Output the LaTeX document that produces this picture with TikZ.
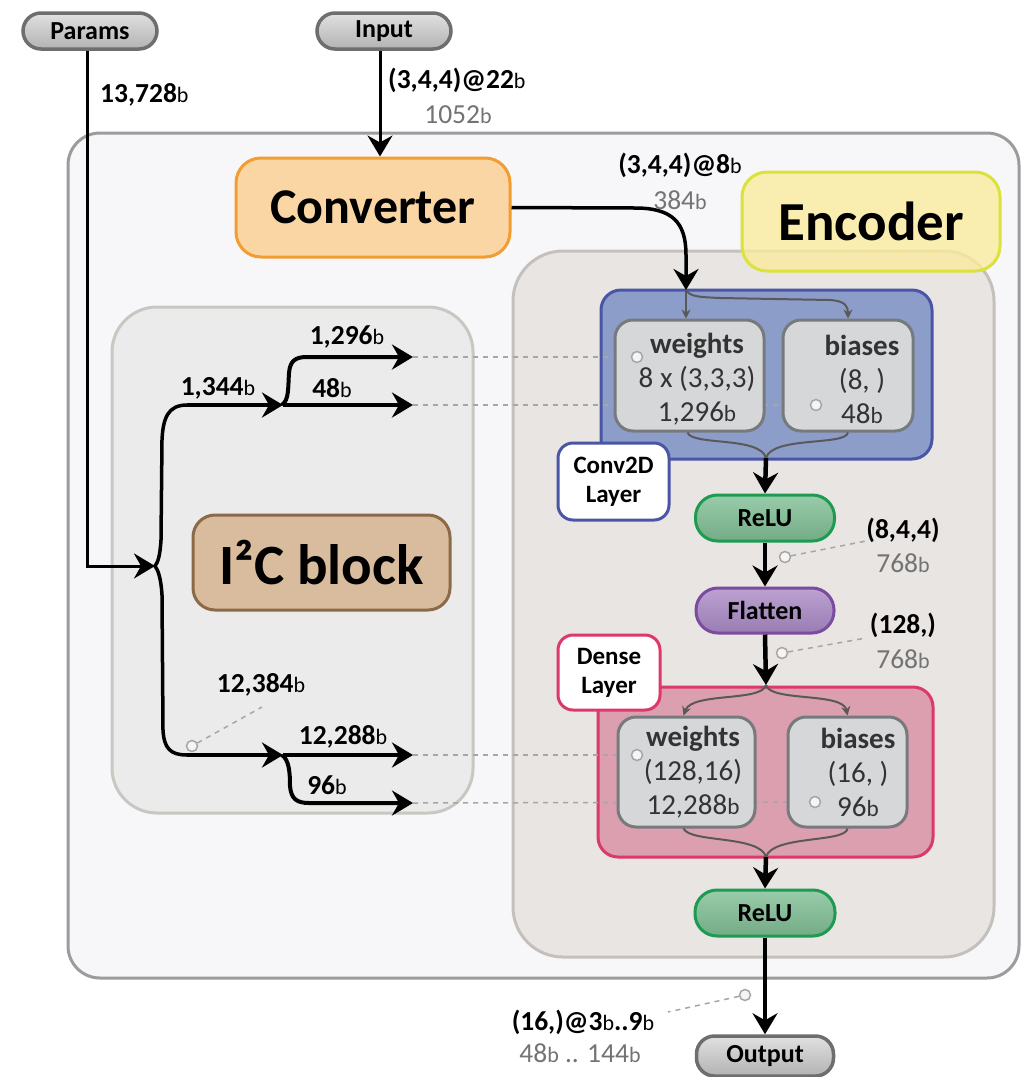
\documentclass[tikz,border=0pt]{standalone}
\usepackage{fontspec}
\setmainfont{Carlito}
\usetikzlibrary{arrows.meta,calc}
\definecolor{cOuterF}{HTML}{F7F7F9}\definecolor{cOuterD}{HTML}{9C9C9C}
\definecolor{cEncF}{HTML}{E8E5E3}\definecolor{cEncD}{HTML}{C4C0BB}
\definecolor{cI2CF}{HTML}{EBEBEB}\definecolor{cI2CD}{HTML}{CAC7C3}
\definecolor{cCvtF}{HTML}{FAD6A5}\definecolor{cCvtD}{HTML}{F39C30}
\definecolor{cEncLF}{HTML}{FBEB9C}\definecolor{cEncLD}{HTML}{D9E33B}
\definecolor{cI2CLF}{HTML}{D9BC9E}\definecolor{cI2CLD}{HTML}{8C6A48}
\definecolor{cConvF}{HTML}{8C9DCA}\definecolor{cConvD}{HTML}{4B55A6}
\definecolor{cDenseF}{HTML}{DC9FB0}\definecolor{cDenseD}{HTML}{DB386C}
\definecolor{cInF}{HTML}{D6D7D9}\definecolor{cInD}{HTML}{777A7D}
\definecolor{cReluF}{HTML}{80BF95}\definecolor{cReluD}{HTML}{1D9B50}
\definecolor{cFlatF}{HTML}{AB8AC6}\definecolor{cFlatD}{HTML}{7B4BA0}
\definecolor{cPillD}{HTML}{6E6E6E}
\definecolor{cGrayT}{HTML}{737373}
\newcommand\ub{{\mdseries\scalebox{0.8}{b}}}
\begin{document}
\begin{tikzpicture}[x=1pt,y=-1pt,
  every node/.style={inner sep=0pt},
  area/.style={line width=3pt},
  pill/.style={draw=cPillD, line width=3.5pt, top color=black!12, bottom color=black!30, rounded corners=18pt, font=\fontsize{26}{30}\selectfont\bfseries},
  title/.style={line width=3pt, rounded corners=25pt, font=\fontsize{50}{54}\selectfont\bfseries},
  inbox/.style={draw=cInD, fill=cInF, line width=3pt, rounded corners=18pt},
  intext/.style={align=center, text=black!80, font=\fontsize{29}{34}\selectfont},
  oppill/.style={line width=3pt, rounded corners=22pt, font=\fontsize{26}{30}\selectfont\bfseries},
  layerlab/.style={fill=white, line width=3pt, rounded corners=15pt, align=center, font=\fontsize{25}{29}\selectfont\bfseries},
  blab/.style={font=\fontsize{27.5}{32}\selectfont\bfseries},
  glab/.style={text=cGrayT, font=\fontsize{27.5}{32}\selectfont},
  bigarrow/.style={line width=4.5pt, -{Stealth[length=21pt,width=25pt,inset=7pt]}},
  bigline/.style={line width=4.5pt},
  thinarrow/.style={draw=black!65, line width=2pt, -{Stealth[length=9pt,width=9pt]}},
  thinline/.style={draw=black!65, line width=2pt},
  dashl/.style={draw=black!35, line width=1.5pt, dash pattern=on 5pt off 5pt},
  circ/.style={circle, draw=black!35, fill=black!4, line width=1.5pt, minimum size=11pt}
]
\useasboundingbox (0,0) rectangle (1026,1077);
\fill[white] (0,0) rectangle (1026,1077);

% containers
\node[area, draw=cOuterD, fill=cOuterF, rounded corners=32pt, minimum width=951pt, minimum height=845pt] (outer) at (543.5,555.5) {};
\node[area, draw=cEncD, fill=cEncF, rounded corners=50pt, minimum width=481pt, minimum height=706pt] (encbox) at (753.5,604) {};
\node[area, draw=cI2CD, fill=cI2CF, rounded corners=45pt, minimum width=361pt, minimum height=506pt] (i2cbox) at (292.5,560) {};

% titles
\node[title, draw=cCvtD, fill=cCvtF, minimum width=274pt, minimum height=99pt] (conv) at (373,207.5) {Converter};
\node[title, draw=cEncLD, fill=cEncLF, fill opacity=0.78, text opacity=1, minimum width=258pt, minimum height=99pt, font=\fontsize{55}{60}\selectfont\bfseries] (enclab) at (871,221.5) {Encoder};
\node[title, draw=cI2CLD, fill=cI2CLF, rounded corners=22pt, minimum width=257pt, minimum height=95pt, font=\fontsize{57}{60}\selectfont\bfseries] (i2clab) at (321.5,562.5) {I²C block};

% layers
\node[area, draw=cConvD, fill=cConvF, rounded corners=20pt, minimum width=331pt, minimum height=169pt] (convbox) at (766.5,374.5) {};
\node[area, draw=cDenseD, fill=cDenseF, rounded corners=20pt, minimum width=335pt, minimum height=170pt] (densebox) at (765.5,772) {};

% pills
\node[pill, minimum width=134pt, minimum height=36pt] (params) at (90,31) {Params};
\node[pill, minimum width=134pt, minimum height=36pt] (input) at (384,31) {Input};
\node[pill, minimum width=137pt, minimum height=40pt] (output) at (765,1056) {Output};

% circles
\node[circ] (c1) at (637,357) {};
\node[circ] (c2) at (816,405) {};
\node[circ] (c3) at (637,755) {};
\node[circ] (c4) at (815,802) {};

% coordinates of the I2C arrows
\coordinate (pj) at (155,566);
\coordinate (u0) at (187,405);
\coordinate (u1) at (283,405);
\coordinate (u2) at (413,405);
\coordinate (u3) at (413,357);
\coordinate (l0) at (187,755);
\coordinate (l1) at (283,755);
\coordinate (l2) at (413,755);
\coordinate (l3) at (413,803);

% dashed links
\draw[dashl] (u3) -- (c1);
\draw[dashl] (u2) -- (c2);
\draw[dashl] (l2) -- (c3);
\draw[dashl] (l3) -- (c4);

% inner boxes
\node[inbox, minimum width=149pt, minimum height=111pt] (cw) at (689.5,375.5) {};
\node[inbox, minimum width=130pt, minimum height=111pt] (cb) at (848,375.5) {};
\node[inbox, minimum width=137pt, minimum height=110pt] (dw) at (686.5,772) {};
\node[inbox, minimum width=119pt, minimum height=110pt] (db) at (847.5,772) {};
\node[circ] at (c1) {};
\node[circ] at (c2) {};
\node[circ] at (c3) {};
\node[circ] at (c4) {};
\node[intext] (cwt) at (697,379) {\textbf{weights}\\8 x (3,3,3)\\1,296\ub};
\node[intext] (cbt) at (862,379) {\textbf{biases}\\(8, )\\48\ub};
\node[intext] (dwt) at (693,772) {\textbf{weights}\\(128,16)\\12,288\ub};
\node[intext] (dbt) at (858,772) {\textbf{biases}\\(16, )\\96\ub};

% layer labels
\node[layerlab, draw=cConvD, minimum width=111pt, minimum height=77pt] (convlab) at (613.5,481.5) {Conv2D\\Layer};
\node[layerlab, draw=cDenseD, minimum width=102pt, minimum height=75pt] (denselab) at (609,672.5) {Dense\\Layer};

% op pills
\node[oppill, draw=cReluD, top color=cReluF!80!white, bottom color=cReluF!90!black, minimum width=139pt, minimum height=46pt] (relu1) at (765,518) {ReLU};
\node[oppill, draw=cFlatD, top color=cFlatF!80!white, bottom color=cFlatF!90!black, minimum width=138pt, minimum height=45pt] (flat) at (765,610.5) {Flatten};
\node[oppill, draw=cReluD, top color=cReluF!80!white, bottom color=cReluF!90!black, minimum width=140pt, minimum height=46pt] (relu2) at (765,913) {ReLU};

% junction coordinates in layers
\coordinate (cin) at (686,290);
\coordinate (cmerge) at (766,458);
\coordinate (din) at (766,685);
\coordinate (dmerge) at (766,857);

% thin inner arrows (conv)
\draw[thinarrow] (cin) -- (cw.north -| cin);
\draw[thinarrow] (cin) .. controls (690,297) and (700,297) .. (720,298) -- (830,300) .. controls (845,301) and (848,306) .. (cb.north);
\draw[thinline] ([xshift=-2pt]cw.south) .. controls (692,446) and (760,436) .. (cmerge);
\draw[thinline] (cb.south) .. controls (846,446) and (772,436) .. (cmerge);
% thin inner arrows (dense)
\draw[thinarrow] (din) .. controls (762,702) and (692,692) .. ([xshift=-3pt]dw.north);
\draw[thinarrow] (din) .. controls (770,702) and (843,692) .. (db.north);
\draw[thinline] ([xshift=-3pt]dw.south) .. controls (690,843) and (760,835) .. (dmerge);
\draw[thinline] (db.south) .. controls (846,843) and (772,835) .. (dmerge);

% big arrows
\draw[bigarrow, line width=3pt] ([xshift=-3pt]params.south) |- (pj);
\draw[bigarrow, line width=3pt] ([xshift=-4pt]input.south) -- ([xshift=-4pt]input.south |- conv.north);
\draw[bigarrow, line width=3.5pt] (conv.east) -- (635,208) .. controls (672,208) and (686,222) .. (686,255) -- (cin);
\draw[bigarrow] (cmerge) -- (relu1.north);
\draw[bigarrow] (relu1.south) -- (flat.north);
\draw[bigarrow] (flat.south) -- (din);
\draw[bigarrow] (dmerge) -- (relu2.north);
\draw[bigarrow] (relu2.south) -- (output.north);

% I2C brace and arrows
\draw[bigline, line width=3.5pt] (u0) .. controls (168,405) and (163,418) .. (162,440) -- (161,540) .. controls (160,556) and (158,562) .. (pj)
   .. controls (158,570) and (161,578) .. (162,595) -- (163,730) .. controls (164,748) and (170,755) .. (l0);
\draw[bigarrow, line width=4pt] (u0) -- (u1);
\draw[bigarrow, line width=4pt] (u1) -- (u2);
\draw[bigarrow, line width=4pt] ([xshift=-1pt]u1) .. controls (289,400) and (288,388) .. (289,373) .. controls (290,361) and (295,357) .. (307,357) -- (u3);
\draw[bigarrow, line width=4pt] (l0) -- (l1);
\draw[bigarrow, line width=4pt] (l1) -- (l2);
\draw[bigarrow, line width=4pt] ([xshift=-1pt]l1) .. controls (289,760) and (290,772) .. (290,786) .. controls (291,799) and (297,803) .. (309,803) -- (l3);

% labels
\node[blab, anchor=west] (lp) at (100,95) {13,728\ub};
\node[blab, anchor=west] (li) at (388,80) {(3,4,4)@22\ub};
\node[glab] (li2) at (458,115) {1052\ub};
\node[blab] (lc) at (680,165) {(3,4,4)@8\ub};
\node[glab] (lc2) at (680,200) {384\ub};
\node[blab] (l1344) at (218,388) {1,344\ub};
\node[blab] (l1296) at (347,337) {1,296\ub};
\node[blab] (l48) at (332,388) {48\ub};
\node[blab] (l12384) at (261,685) {12,384\ub};
\node[blab] (l12288) at (343,737) {12,288\ub};
\node[blab] (l96) at (327,785) {96\ub};
\node[blab] (l844) at (903,530) {(8,4,4)};
\node[glab] (l844b) at (903,563) {768\ub};
\node[blab] (l128) at (903,625) {(128,)};
\node[glab] (l128b) at (903,659) {768\ub};
\node[blab] (lo) at (583,1022) {(16,)@3\ub..9\ub};
\node[glab] (lo2) at (580,1053) {48\ub{} .. 144\ub};

% label leaders
\node[circ] (c5) at (785,557) {};
\node[circ] (c6) at (782,653) {};
\node[circ] (c7) at (192,746) {};
\node[circ] (c8) at (745,995) {};
\draw[dashl] (c5) -- (866,541);
\draw[dashl] (c6) -- (866,638);
\draw[dashl] (c7) -- (262,707);
\draw[dashl] (c8) -- (668,1012);
\end{tikzpicture}
\end{document}
